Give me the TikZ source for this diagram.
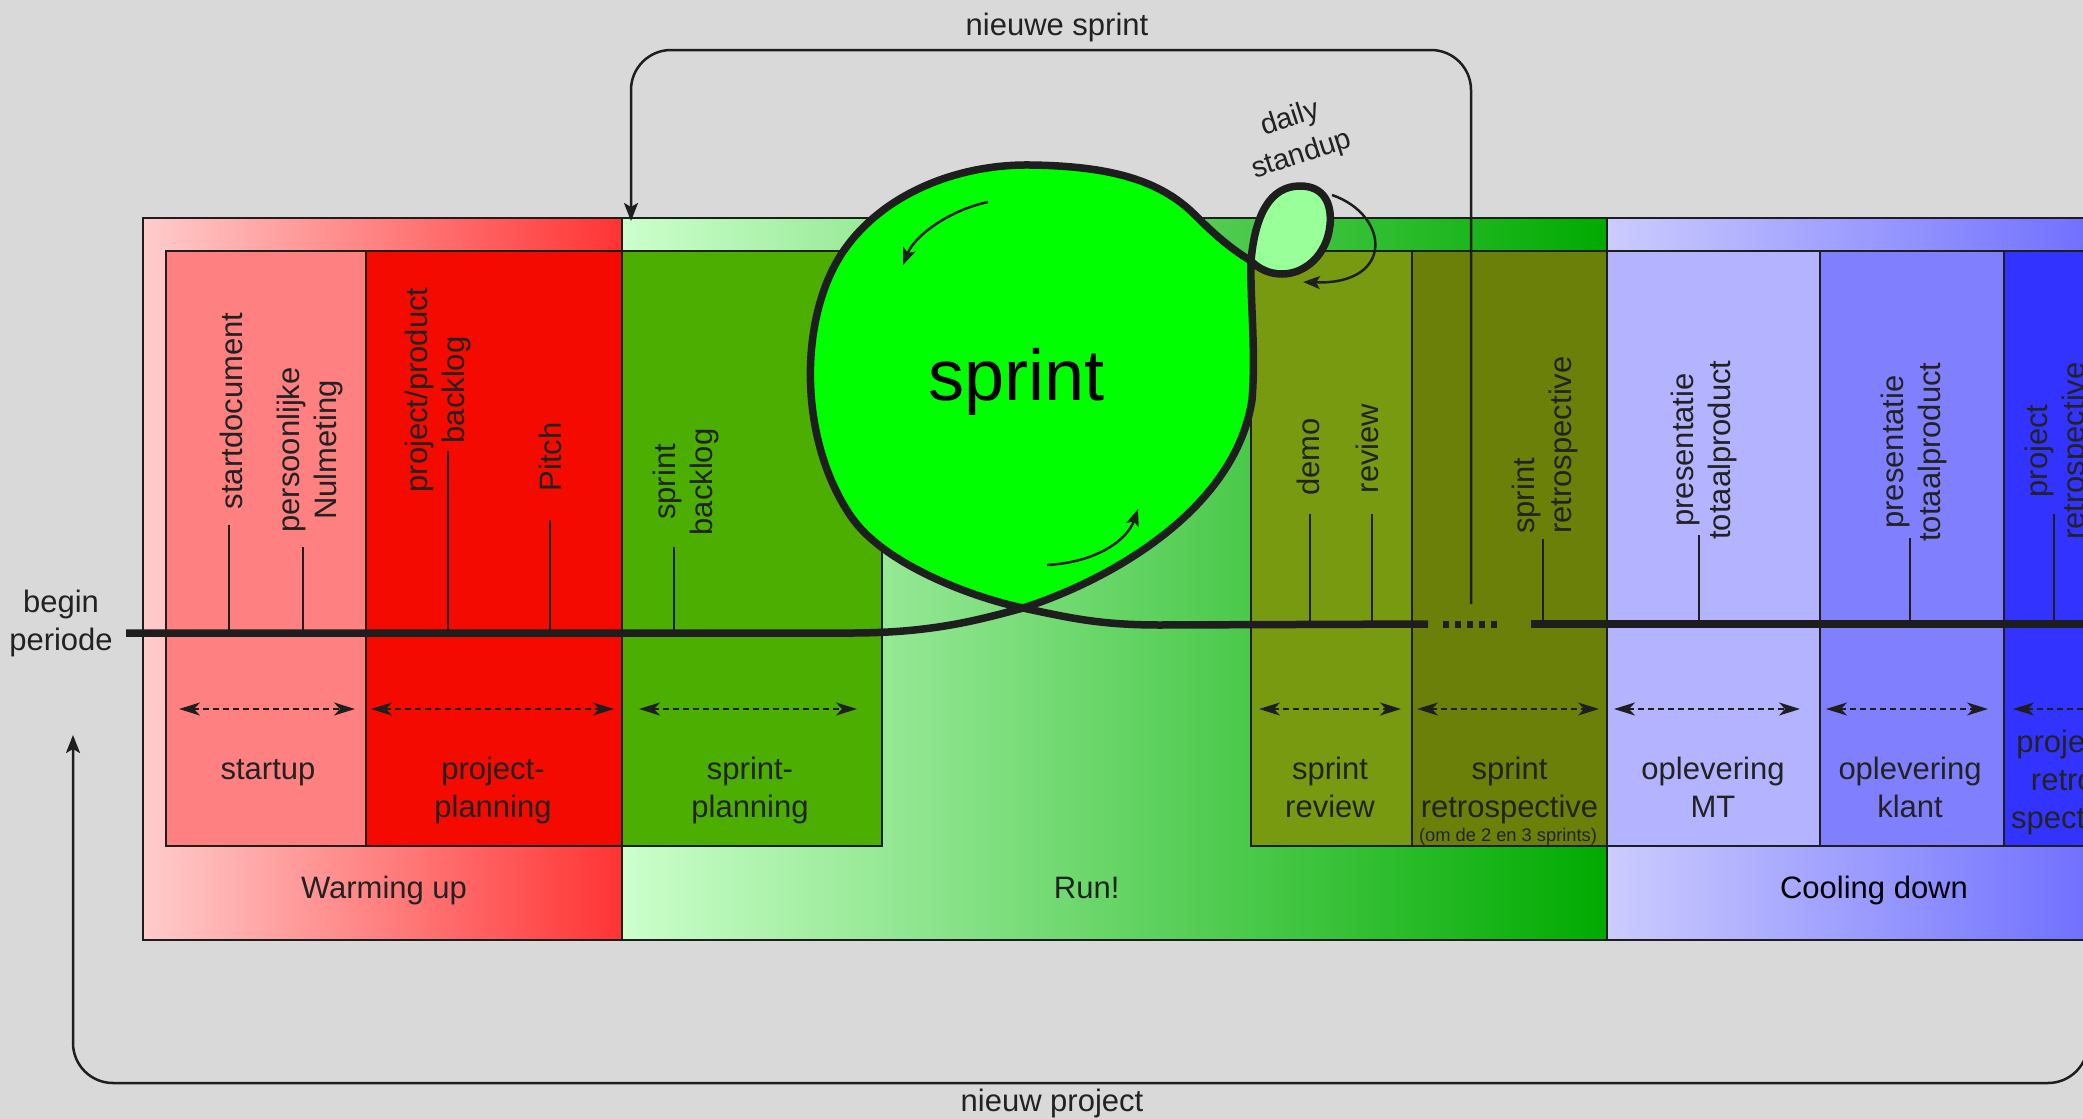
\documentclass[tikz,border=0pt]{standalone}
\usepackage{fontspec}
\setmainfont{Liberation Sans}
\usetikzlibrary{arrows.meta}
\definecolor{bgc}{RGB}{217,217,217}
\definecolor{linec}{RGB}{30,30,30}
\definecolor{txtc}{RGB}{34,34,34}
\definecolor{wuL}{RGB}{255,204,204}
\definecolor{wuR}{RGB}{255,51,51}
\definecolor{runL}{RGB}{204,255,204}
\definecolor{runR}{RGB}{0,170,0}
\definecolor{cdL}{RGB}{204,204,255}
\definecolor{cdR}{RGB}{102,102,255}
\definecolor{cStart}{RGB}{255,128,128}
\definecolor{cPlan}{RGB}{245,10,0}
\definecolor{cSpPlan}{RGB}{76,174,0}
\definecolor{cReview}{RGB}{120,154,16}
\definecolor{cRetro}{RGB}{107,128,8}
\definecolor{cMT}{RGB}{179,179,255}
\definecolor{cKlant}{RGB}{128,128,255}
\definecolor{cPRetro}{RGB}{51,51,255}
\definecolor{cBlob}{RGB}{0,255,0}
\definecolor{cLoop}{RGB}{153,255,153}
\begin{document}
\begin{tikzpicture}[x=1pt,y=-1pt,
  region/.style={draw=linec, line width=2pt},
  phasebox/.style={draw=linec, line width=2pt},
  lbl/.style={font=\fontsize{31}{38}\selectfont, text=txtc, inner sep=0pt, align=center},
  vlbl/.style={font=\fontsize{31}{37}\selectfont, text=txtc, inner sep=0pt, align=center, rotate=90},
  tickline/.style={draw=linec, line width=2pt},
  spanarrow/.style={draw=linec, line width=2pt, dash pattern=on 5.5pt off 4.5pt,
     {Stealth[length=21pt,width=13pt,inset=6pt]}-{Stealth[length=21pt,width=13pt,inset=6pt]}},
  timeline/.style={draw=linec, line width=7.5pt},
  loopconn/.style={draw=linec, line width=2.5pt, rounded corners=40pt,
     -{Stealth[length=18pt,width=14pt,inset=4pt]}},
  cyclearrow/.style={draw=linec, line width=2.5pt, -{Stealth[length=17pt,width=13pt,inset=4pt]}},
]
\useasboundingbox (0,0) rectangle (2083,1119);
\clip (0,0) rectangle (2083,1119);
\fill[bgc] (0,0) rectangle (2083,1119);

% phase regions
\path[region, left color=wuL, right color=wuR] (143,218) rectangle (622,940);
\path[region, left color=runL, right color=runR] (622,218) rectangle (1607,940);
\path[region, left color=cdL, right color=cdR] (1607,218) rectangle (2140,940);

% activity boxes
\path[phasebox, fill=cStart]  (166,251) rectangle (366,846);
\path[phasebox, fill=cPlan]   (366,251) rectangle (622,846);
\path[phasebox, fill=cSpPlan] (622,251) rectangle (882,846);
\path[phasebox, fill=cReview] (1251,251) rectangle (1412,846);
\path[phasebox, fill=cRetro]  (1412,251) rectangle (1607,846);
\path[phasebox, fill=cMT]     (1607,251) rectangle (1820,846);
\path[phasebox, fill=cKlant]  (1820,251) rectangle (2004,846);
\path[phasebox, fill=cPRetro] (2004,251) rectangle (2140,846);

% milestone ticks
\foreach \nm/\x/\yb/\yt in {a/229/633/525, b/303/633/547, c/448/633/451, d/550/633/520,
   e/674/633/547, f/1310/624/514, g/1372/624/514, h/1543/624/539, i/1699/624/535,
   j/1909.5/624/538, k/2054/624/514}{
  \coordinate (tb\nm) at (\x,\yb);
  \coordinate (tt\nm) at (\x,\yt);
  \draw[tickline] (tb\nm) -- (tt\nm);
}

% duration arrows
\foreach \nm/\xa/\xb in {a/179/355, b/371/614, c/639/857, d/1259/1401, e/1417/1599,
   f/1614/1800, g/1826/1988, h/2013/2200}{
  \coordinate (sa\nm) at (\xa,709);
  \coordinate (sb\nm) at (\xb,709);
  \draw[spanarrow] (sa\nm) -- (sb\nm);
}

% sprint blob
\coordinate (tlstart) at (126,633);
\coordinate (cross) at (1023,608);
\coordinate (loopx) at (1251,261);
\coordinate (tlend) at (1428,624);
\fill[cBlob] (cross) .. controls (1110,580) and (1235,510) .. (1252,400)
  .. controls (1256,350) and (1250,300) .. (loopx)
  .. controls (1230,248) and (1215,235) .. (1195,215)
  .. controls (1160,180) and (1110,166) .. (1030,165)
  .. controls (950,164) and (870,200) .. (835,265)
  .. controls (800,330) and (800,440) .. (850,515)
  .. controls (883,565) and (975,598) .. (cross) -- cycle;
\fill[cLoop] (loopx) .. controls (1255,215) and (1270,186) .. (1300,186)
  .. controls (1325,186) and (1332,205) .. (1330,225)
  .. controls (1327,255) and (1305,274) .. (1282,274)
  .. controls (1268,274) and (1258,268) .. (loopx) -- cycle;
\draw[timeline] (tlstart) -- (850,633) .. controls (930,633) and (975,621) .. (cross)
  .. controls (1110,580) and (1235,510) .. (1252,400)
  .. controls (1256,350) and (1250,300) .. (loopx)
  .. controls (1255,215) and (1270,186) .. (1300,186)
  .. controls (1325,186) and (1332,205) .. (1330,225)
  .. controls (1327,255) and (1305,274) .. (1282,274)
  .. controls (1268,274) and (1258,268) .. (loopx)
  .. controls (1230,248) and (1215,235) .. (1195,215)
  .. controls (1160,180) and (1110,166) .. (1030,165)
  .. controls (950,164) and (870,200) .. (835,265)
  .. controls (800,330) and (800,440) .. (850,515)
  .. controls (883,565) and (975,598) .. (cross)
  .. controls (1070,618) and (1100,625) .. (1160,625)
  -- (tlend);
\coordinate (dotsA) at (1443,624);
\coordinate (dotsB) at (1497,624);
\draw[draw=linec, line width=7pt, dash pattern=on 6pt off 6pt] (dotsA) -- (dotsB);
\coordinate (tlR) at (1531,624);
\coordinate (tlRend) at (2100,624);
\draw[timeline] (tlR) -- (tlRend);

% cycle arrows
\coordinate (ca1s) at (988,202); \coordinate (ca1e) at (903,265);
\draw[cyclearrow] (ca1s) .. controls (950,210) and (915,235) .. (ca1e);
\coordinate (ca2s) at (1047,565); \coordinate (ca2e) at (1138,509);
\draw[cyclearrow] (ca2s) .. controls (1100,562) and (1128,538) .. (ca2e);
\coordinate (ca3s) at (1332,195); \coordinate (ca3e) at (1303,282);
\draw[cyclearrow] (ca3s) .. controls (1390,215) and (1395,285) .. (ca3e);

\node[font=\fontsize{72}{80}\selectfont, text=black, inner sep=0pt, anchor=base] (lSprint) at (1016.5,400) {sprint};
\node[lbl, font=\fontsize{29}{38}\selectfont, rotate=18] (lDaily) at (1296,137) {\strut daily\\\strut standup};

% vertical milestone labels
\node[vlbl] (lStartdoc) at (234.6,411) {\strut startdocument};
\node[vlbl] (lPersoon) at (311,450) {\strut persoonlijke\\\strut Nulmeting};
\node[vlbl] (lBacklog) at (439,390) {\strut project/product\\\strut backlog};
\node[vlbl] (lPitch) at (553.6,457) {\strut Pitch};
\node[vlbl] (lSpBacklog) at (686.6,482) {\strut sprint\\\strut backlog};
\node[vlbl] (lDemo) at (1312,457) {\strut demo};
\node[vlbl] (lReview) at (1371,448.5) {\strut review};
\node[vlbl, align=left] (lSpRetro) at (1546,445) {\strut sprint\\\strut retrospective};
\node[vlbl] (lPres1) at (1705,450) {\strut presentatie\\\strut totaalproduct};
\node[vlbl] (lPres2) at (1915,452) {\strut presentatie\\\strut totaalproduct};
\node[vlbl] (lPRetro) at (2058.6,451) {\strut project\\\strut retrospective};

% activity labels
\node[lbl] (lStartup) at (268,771.4) {\strut startup};
\node[lbl] (lPlan) at (493,790.4) {\strut project-\\\strut planning};
\node[lbl] (lSpPlan) at (750,790.4) {\strut sprint-\\\strut planning};
\node[lbl] (lSpRev) at (1330,790.4) {\strut sprint\\\strut review};
\node[lbl] (lRetro) at (1509.5,790.4) {\strut sprint\\\strut retrospective};
\node[font=\fontsize{18.3}{22}\selectfont, text=txtc, inner sep=0pt, anchor=base] (lRetroSub) at (1508,841) {(om de 2 en 3 sprints)};
\node[lbl] (lMT) at (1713,790.4) {\strut oplevering\\\strut MT};
\node[lbl] (lKlant) at (1910,790.4) {\strut oplevering\\\strut klant};
\node[lbl] (lPRetroB) at (2068,782.4) {\strut project-\\\strut retro-\\\strut spective};

% phase labels
\node[lbl] (lWarm) at (384,890.4) {\strut Warming up};
\node[lbl] (lRun) at (1086.7,890.4) {\strut Run!};
\node[lbl, text=black] (lCool) at (1874,890.4) {\strut Cooling down};
\node[lbl] (lBegin) at (61,624) {\strut begin\\\strut periode};

% loops
\coordinate (nsFrom) at (1471,604);
\coordinate (nsTop) at (1000,50);
\coordinate (nsTo) at (631,221);
\draw[loopconn] (nsFrom) |- (nsTop) -| (nsTo);
\node[lbl, anchor=base] (lNieuweSprint) at (1057,35.5) {nieuwe sprint};
\coordinate (npFrom) at (2088,630);
\coordinate (npBot) at (1000,1083);
\coordinate (npTo) at (73,735);
\draw[loopconn] (npFrom) |- (npBot) -| (npTo);
\node[lbl, anchor=base] (lNieuwProject) at (1052,1111) {nieuw project};
\end{tikzpicture}
\end{document}
